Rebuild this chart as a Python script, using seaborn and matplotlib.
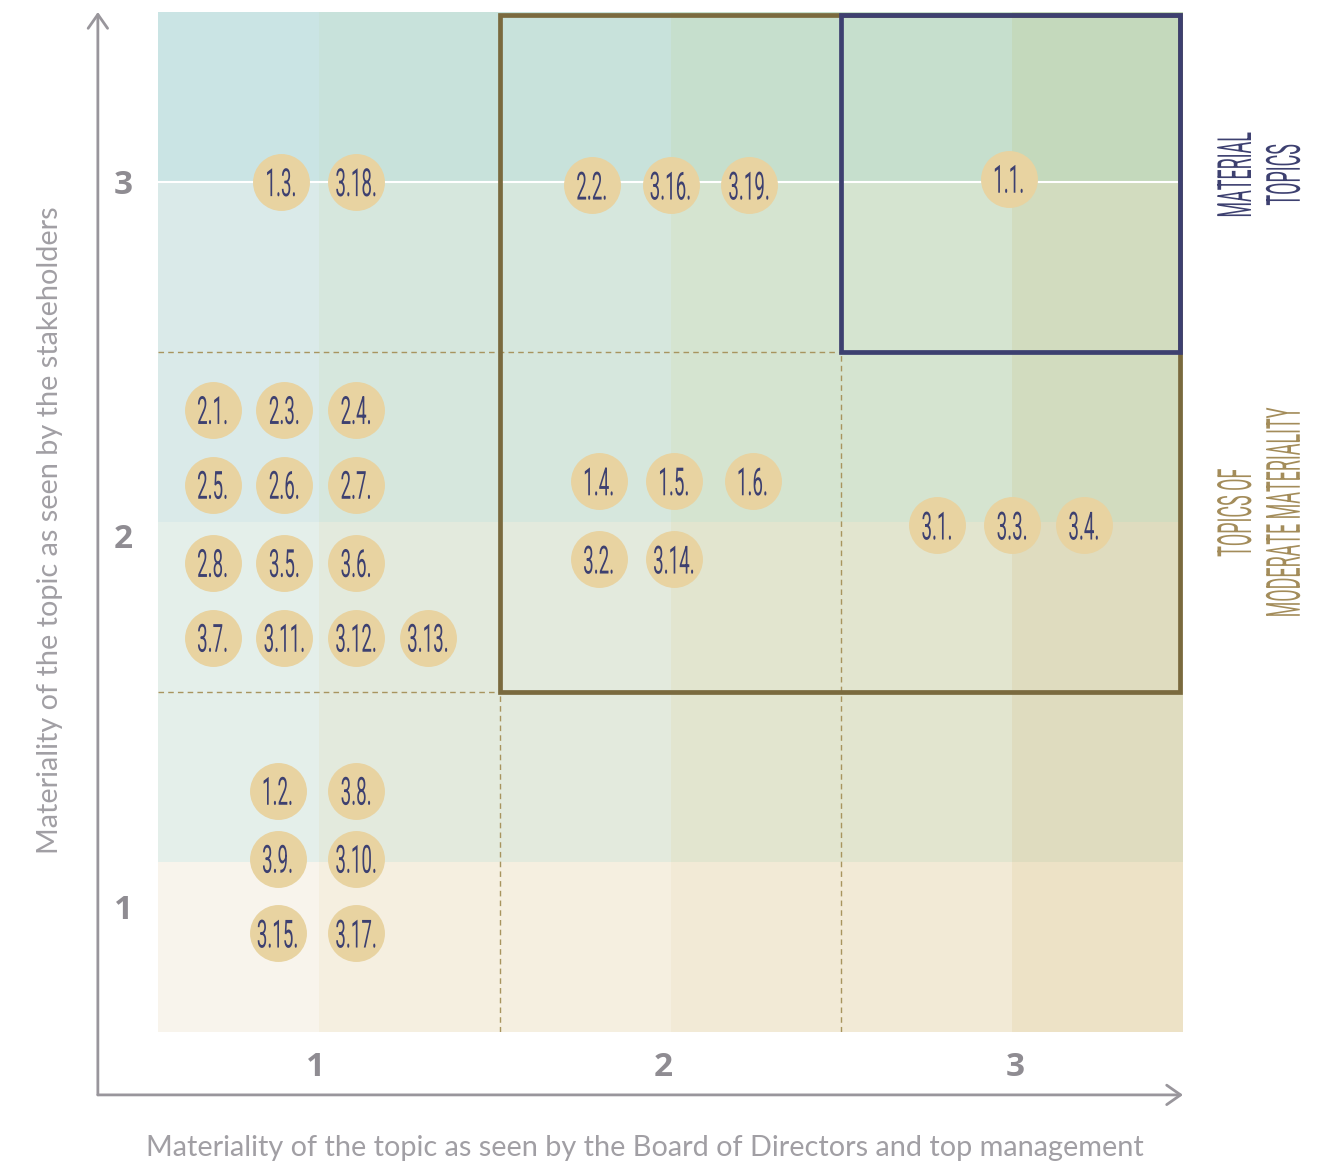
# materiality matrix - topics plotted by stakeholder vs board materiality
import numpy as np
import matplotlib.pyplot as plt
import matplotlib.patheffects as pe
from matplotlib.colors import to_rgb
from matplotlib.patches import Rectangle
from matplotlib.transforms import Affine2D
import seaborn as sb

# topic codes and their position in the matrix (x = board, y = stakeholders)
topics = ["1.3.", "3.18.", "2.2.", "3.16.", "3.19.", "1.1.",
          "2.1.", "2.3.", "2.4.", "2.5.", "2.6.", "2.7.",
          "2.8.", "3.5.", "3.6.", "3.7.", "3.11.", "3.12.", "3.13.",
          "1.4.", "1.5.", "1.6.", "3.2.", "3.14.",
          "3.1.", "3.3.", "3.4.",
          "1.2.", "3.8.", "3.9.", "3.10.", "3.15.", "3.17."]
topic_x = [0.86, 1.08, 1.77, 2.00, 2.23, 2.99,
           0.66, 0.87, 1.08, 0.66, 0.87, 1.08,
           0.66, 0.87, 1.08, 0.66, 0.87, 1.08, 1.29,
           1.79, 2.01, 2.24, 1.79, 2.01,
           2.78, 3.00, 3.21,
           0.85, 1.08, 0.85, 1.08, 0.85, 1.08]
topic_y = [3.00, 3.00, 2.99, 2.99, 2.99, 3.01,
           2.33, 2.33, 2.33, 2.11, 2.11, 2.11,
           1.88, 1.88, 1.88, 1.66, 1.66, 1.66, 1.66,
           2.12, 2.12, 2.12, 1.89, 1.89,
           1.99, 1.99, 1.99,
           1.21, 1.21, 1.01, 1.01, 0.79, 0.79]

tick_labels = ["1", "2", "3"]
xtick_pos = [0.96, 1.98, 3.01]
ytick_pos = [0.87, 1.96, 3.0]

xlabel = "Materiality of the topic as seen by the Board of Directors and top management"
ylabel = "Materiality of the topic as seen by the stakeholders"

# background bands (colours, bottom row first)
x_edges = [0.5, 0.97, 2.0, 3.0, 3.5]
y_edges = [0.5, 1.0, 2.0, 3.0, 3.5]
bg_colors = [["#f8f4ec", "#f5efe0", "#f2ead6", "#ede2c6"],
             ["#e4efea", "#e3eadd", "#e2e5cf", "#dfdcbf"],
             ["#daeae9", "#d6e7dd", "#d5e4d0", "#d2dcbf"],
             ["#cae4e4", "#c8e2db", "#c6dfcd", "#c4d9bc"]]

navy = "#3d4070"
brown = "#7a6a3e"
tan = "#a38c5a"
grey = "#99969c"


# stretches text glyphs upward around their centre -> tall condensed look like the original font
class Tall(pe.AbstractPathEffect):
    def __init__(self, sy):
        super().__init__()
        self.sy = sy

    def draw_path(self, renderer, gc, tpath, affine, rgbFace=None):
        ext = tpath.get_extents()
        cy = (ext.y0 + ext.y1) / 2
        stretch = Affine2D().translate(0, -cy).scale(1, self.sy).translate(0, cy)
        renderer.draw_path(gc, tpath, stretch + affine, rgbFace)


sb.set_theme(style="white")
plt.rcParams['font.family'] = ['Roboto', 'DejaVu Sans']

fig = plt.figure(figsize=(13.29, 11.67), dpi=100)
ax = fig.add_axes([158 / 1329, 135 / 1167, 1025 / 1329, 1020 / 1167])

rgb = np.array([[to_rgb(c) for c in row] for row in bg_colors])
ax.pcolormesh(x_edges, y_edges, rgb, zorder=0)
ax.axhline(3.0, color="white", lw=1.5, zorder=1)

# dashed grid lines
dash = dict(color="#a8945e", lw=1.0, linestyles=(0, (4, 3)), zorder=2)
ax.hlines([2.5, 1.5], 0.5, [2.5, 1.5], **dash)
ax.vlines([1.5, 2.5], 0.5, [1.5, 2.5], **dash)

# moderate and material boxes
ax.add_patch(Rectangle((1.5, 1.5), 1.99, 1.99, fill=False, ec=brown, lw=3.4, zorder=3, clip_on=False))
ax.add_patch(Rectangle((2.5, 2.5), 0.99, 0.99, fill=False, ec=navy, lw=3.4, zorder=3, clip_on=False))

# bubbles
sb.scatterplot(x=topic_x, y=topic_y, s=1680, color="#e8d3a1", linewidth=0, ax=ax, legend=False, zorder=4)
for lbl, x, y in zip(topics, topic_x, topic_y):
    ax.text(x, y, lbl, ha="center", va="center_baseline", fontsize=13.5,
            color=navy, zorder=5, path_effects=[Tall(2.07)])

ax.set_xlim(0.5, 3.5)
ax.set_ylim(0.5, 3.5)
for s in ax.spines.values():
    s.set_visible(False)
ax.grid(False)

ax.set_xticks(xtick_pos)
ax.set_xticklabels(tick_labels)
ax.set_yticks(ytick_pos)
ax.set_yticklabels(tick_labels)
ax.tick_params(length=0, labelsize=24, labelcolor="#8f8c92")
ax.tick_params(axis="x", pad=14)
ax.tick_params(axis="y", pad=18)
for t in ax.get_xticklabels() + ax.get_yticklabels():
    t.set_fontfamily("Open Sans")
    t.set_fontweight("bold")

# axis arrows
arrow = dict(arrowstyle="->,head_length=0.5,head_width=0.35", color=grey, lw=2.0, mutation_scale=20,
             shrinkA=0, shrinkB=0)
ax.annotate("", xy=(0.324, 3.5), xytext=(0.324, 0.315), arrowprops=arrow, annotation_clip=False)
ax.annotate("", xy=(3.5, 0.315), xytext=(0.324, 0.315), arrowprops=arrow, annotation_clip=False)

# axis titles
fig.text(645 / 1329, 1 - 1148 / 1167, xlabel, ha="center", va="center", fontsize=20.8,
         family="Lato", fontweight="normal", color="#a19fa4")
fig.text(50 / 1329, 1 - 530 / 1167, ylabel, ha="center", va="center", rotation=90, fontsize=20.8,
         family="Lato", fontweight="normal", color="#a19fa4")

# side labels
fig.text(1260 / 1329, 1 - 175 / 1167, "MATERIAL\nTOPICS", ha="center", va="center", rotation=90,
         multialignment="center", fontsize=12.9, linespacing=3.2, color=navy, path_effects=[Tall(2.63)])
fig.text(1260 / 1329, 1 - 513 / 1167, "TOPICS OF\nMODERATE MATERIALITY", ha="center", va="center",
         rotation=90, multialignment="center", fontsize=12.9, linespacing=3.2, color=tan,
         path_effects=[Tall(2.63)])

plt.savefig("out.png", dpi=100)
